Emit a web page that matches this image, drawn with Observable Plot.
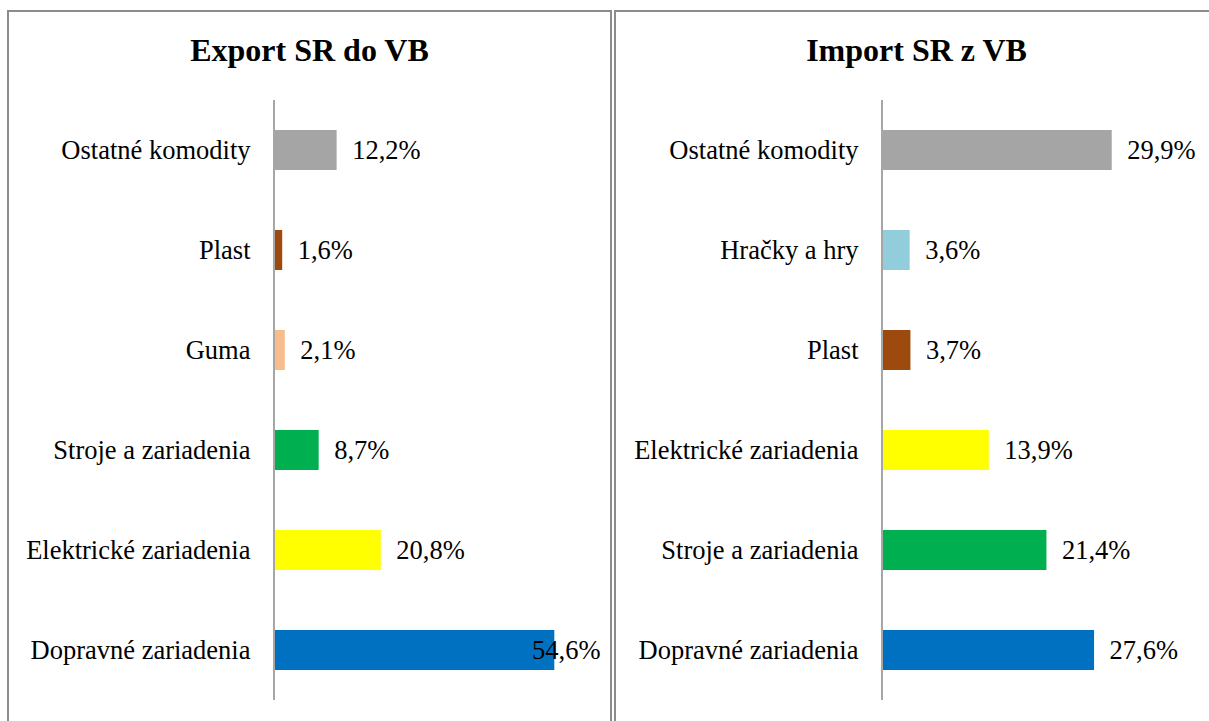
<!DOCTYPE html>
<html>
<head>
<meta charset="utf-8">
<script src="https://cdn.jsdelivr.net/npm/d3@7"></script>
<script src="https://cdn.jsdelivr.net/npm/@observablehq/plot@0.6"></script>
<style>
  html, body { margin: 0; padding: 0; background: #fff; overflow: hidden; }
  body { width: 1209px; height: 721px; position: relative; font-family: "Liberation Serif", "Times New Roman", serif; }
  .panel { position: absolute; top: 10px; width: 601px; height: 760px; border: 2px solid #8c8c8c; background: #fff; }
  .title { position: absolute; left: 0; width: 601px; top: 22px; text-align: center; font-size: 32px; line-height: 32px; font-weight: bold; color: #000; }
  .panel svg { position: absolute; left: 0; top: 0; }
</style>
</head>
<body>
<div class="panel" id="left" style="left:7px"><div class="title">Export SR do VB</div></div>
<div class="panel" id="right" style="left:614px"><div class="title">Import SR z VB</div></div>
<script>
// Export SR do VB
const exportCategories = ["Ostatné komodity", "Plast", "Guma", "Stroje a zariadenia", "Elektrické zariadenia", "Dopravné zariadenia"];
const exportValues = [12.2, 1.6, 2.1, 8.7, 20.8, 54.6];
const exportColors = ["#a5a5a5", "#9c4a0e", "#f7bd8c", "#00b050", "#ffff00", "#0070c0"];

// Import SR z VB
const importCategories = ["Ostatné komodity", "Hračky a hry", "Plast", "Elektrické zariadenia", "Stroje a zariadenia", "Dopravné zariadenia"];
const importValues = [29.9, 3.6, 3.7, 13.9, 21.4, 27.6];
const importColors = ["#a5a5a5", "#92cddc", "#9c4a0e", "#ffff00", "#00b050", "#0070c0"];

const fmt = v => v.toFixed(1).replace(".", ",") + "%";
const FONT = "Liberation Serif, Times New Roman, serif";
const FS = 26.5;

function makeChart(cats, vals, cols, xMax, marginLeft) {
  const data = cats.map((c, i) => ({cat: c, value: vals[i], color: cols[i]}));
  const W = 601, H = 700, MR = 10;
  const sx = Plot.scale({x: {domain: [0, xMax], range: [marginLeft, W - MR]}});
  const labelW = 70, gap = 15;
  const fits = d => sx.apply(d.value) + gap + labelW <= W - MR;
  return Plot.plot({
    width: W,
    height: H,
    marginLeft,
    marginRight: MR,
    marginTop: 88,
    marginBottom: 12,
    style: {fontSize: FS + "px", fontFamily: FONT, color: "#000", background: "transparent"},
    x: {domain: [0, xMax], axis: null},
    y: {domain: cats, paddingInner: 0.6, paddingOuter: 0.3, axis: null},
    color: {type: "identity"},
    marks: [
      Plot.barX(data, {y: "cat", x1: 0, x2: "value", fill: "color"}),
      Plot.ruleX([0], {stroke: "#a6a6a6", strokeWidth: 2, dx: -0.5}),
      Plot.axisY({tickSize: 0, tickPadding: 24, label: null, fontSize: FS, fontFamily: FONT, fill: "#000"}),
      Plot.text(data.filter(fits), {y: "cat", x: "value", dx: gap, text: d => fmt(d.value), textAnchor: "start", fontSize: FS, fontFamily: FONT, fill: "#000"}),
      Plot.text(data.filter(d => !fits(d)), {y: "cat", frameAnchor: "right", text: d => fmt(d.value), textAnchor: "end", fontSize: FS, fontFamily: FONT, fill: "#000"})
    ]
  });
}

document.getElementById("left").appendChild(makeChart(exportCategories, exportValues, exportColors, 63.5, 265));
document.getElementById("right").appendChild(makeChart(importCategories, importValues, importColors, 42.3, 266));
</script>
</body>
</html>
